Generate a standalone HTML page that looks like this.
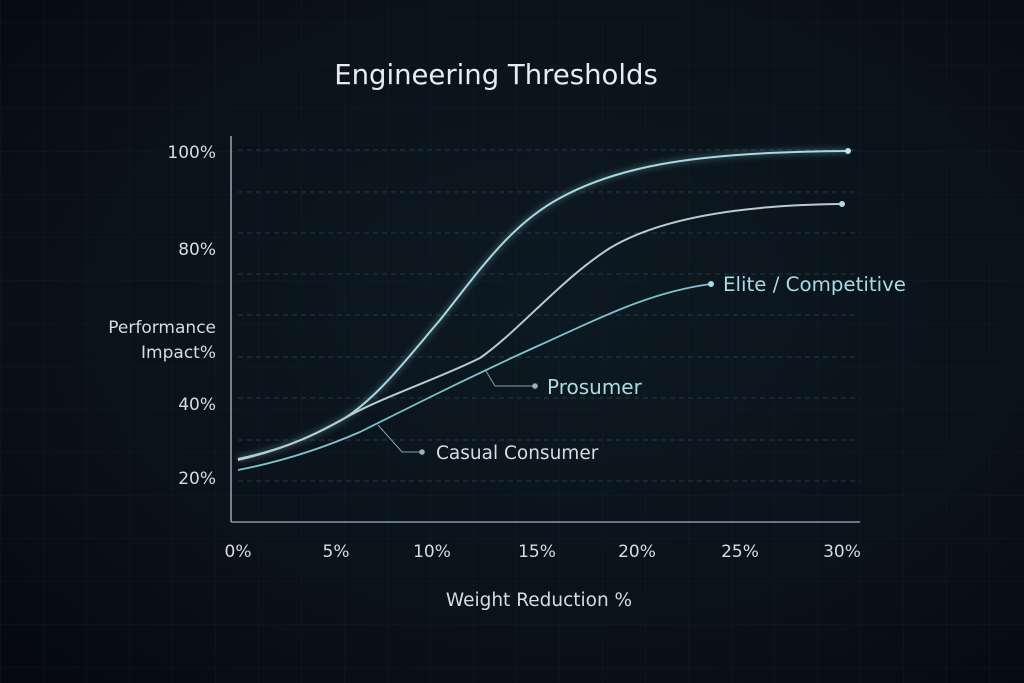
<!DOCTYPE html>
<html><head><meta charset="utf-8"><style>
html,body{margin:0;padding:0;background:#080e14;}
svg{display:block;}
text{font-family:"DejaVu Sans","Liberation Sans",sans-serif;}
</style></head><body>
<svg width="1024" height="683" viewBox="0 0 1024 683" xmlns="http://www.w3.org/2000/svg">
<defs>
<radialGradient id="bg" cx="0.55" cy="0.45" r="0.75">
<stop offset="0" stop-color="#0d1922"/><stop offset="0.6" stop-color="#0a121a"/><stop offset="1" stop-color="#060a0f"/>
</radialGradient>
<pattern id="fine" width="43" height="43" patternUnits="userSpaceOnUse" x="0" y="22">
<path d="M0 0H43M0 0V43" stroke="#172631" stroke-width="1" fill="none"/>
</pattern>
<filter id="glow"><feGaussianBlur stdDeviation="3"/></filter>
</defs>
<rect width="1024" height="683" fill="url(#bg)"/>
<rect width="1024" height="683" fill="url(#fine)" opacity="0.5"/>
<g stroke="#243744" stroke-width="1" stroke-dasharray="5,4">
<line x1="238" x2="860" y1="150" y2="150"/><line x1="238" x2="860" y1="192" y2="192"/>
<line x1="238" x2="860" y1="233" y2="233"/><line x1="238" x2="860" y1="274" y2="274"/>
<line x1="238" x2="860" y1="315" y2="315"/><line x1="238" x2="860" y1="357" y2="357"/>
<line x1="238" x2="860" y1="398" y2="398"/><line x1="238" x2="860" y1="440" y2="440"/>
<line x1="238" x2="860" y1="481" y2="481"/>
</g>
<line x1="231" y1="136" x2="231" y2="522" stroke="#9aa8b0" stroke-width="1.5"/>
<line x1="231" y1="522" x2="860" y2="522" stroke="#7f9aa8" stroke-width="1.5"/>
<text x="496" y="84" fill="#e6ecef" font-size="27.5" text-anchor="middle">Engineering Thresholds</text>
<g fill="#d6dde1" font-size="17" text-anchor="end">
<text x="216" y="158">100%</text><text x="216" y="255">80%</text>
<text x="216" y="333">Performance</text><text x="216" y="358">Impact%</text>
<text x="216" y="410">40%</text><text x="216" y="484">20%</text>
</g>
<g fill="#d6dde1" font-size="17" text-anchor="middle">
<text x="238" y="557">0%</text><text x="336" y="557">5%</text><text x="432" y="557">10%</text>
<text x="537" y="557">15%</text><text x="637" y="557">20%</text><text x="740" y="557">25%</text>
<text x="842" y="557">30%</text>
<text x="539" y="606" font-size="18.5">Weight Reduction %</text>
</g>
<path d="M238 459 C290 448 320 432 345 418 C380 395 410 355 440 320 C480 270 510 225 560 198 C620 165 700 152 848 151" stroke="#7fc4d0" stroke-width="6" fill="none" opacity="0.25" filter="url(#glow)"/>
<path d="M238 459 C290 448 320 432 345 418 C380 395 410 355 440 320 C480 270 510 225 560 198 C620 165 700 152 848 151" stroke="#a8d8e0" stroke-width="2" fill="none"/>
<path d="M238 460 C290 448 320 432 345 418 C380 398 440 378 480 358 C520 330 560 280 610 248 C660 218 740 205 842 204" stroke="#b8cbd2" stroke-width="2" fill="none"/>
<path d="M238 470 C290 460 330 445 360 432 C420 402 480 372 540 345 C600 318 650 292 711 284" stroke="#7cc3cf" stroke-width="1.8" fill="none"/>
<circle cx="848" cy="151" r="3" fill="#bfe6ee"/>
<circle cx="842" cy="204" r="3" fill="#a8dbe6"/>
<circle cx="711" cy="284" r="3" fill="#a8dbe6"/>
<text x="723" y="291" fill="#a9dbe4" font-size="19.8">Elite / Competitive</text>
<polyline points="486,371 495,386 535,386" stroke="#8aa0a8" stroke-width="1" fill="none"/>
<circle cx="535" cy="386" r="2.8" fill="#a0b0b8"/>
<text x="547" y="394" fill="#a9dbe4" font-size="20">Prosumer</text>
<polyline points="378,425 402,452 422,452" stroke="#8aa0a8" stroke-width="1" fill="none"/>
<circle cx="422" cy="452" r="2.8" fill="#a0b0b8"/>
<text x="436" y="459" fill="#d6dde1" font-size="18.5">Casual Consumer</text>
</svg>
</body></html>
